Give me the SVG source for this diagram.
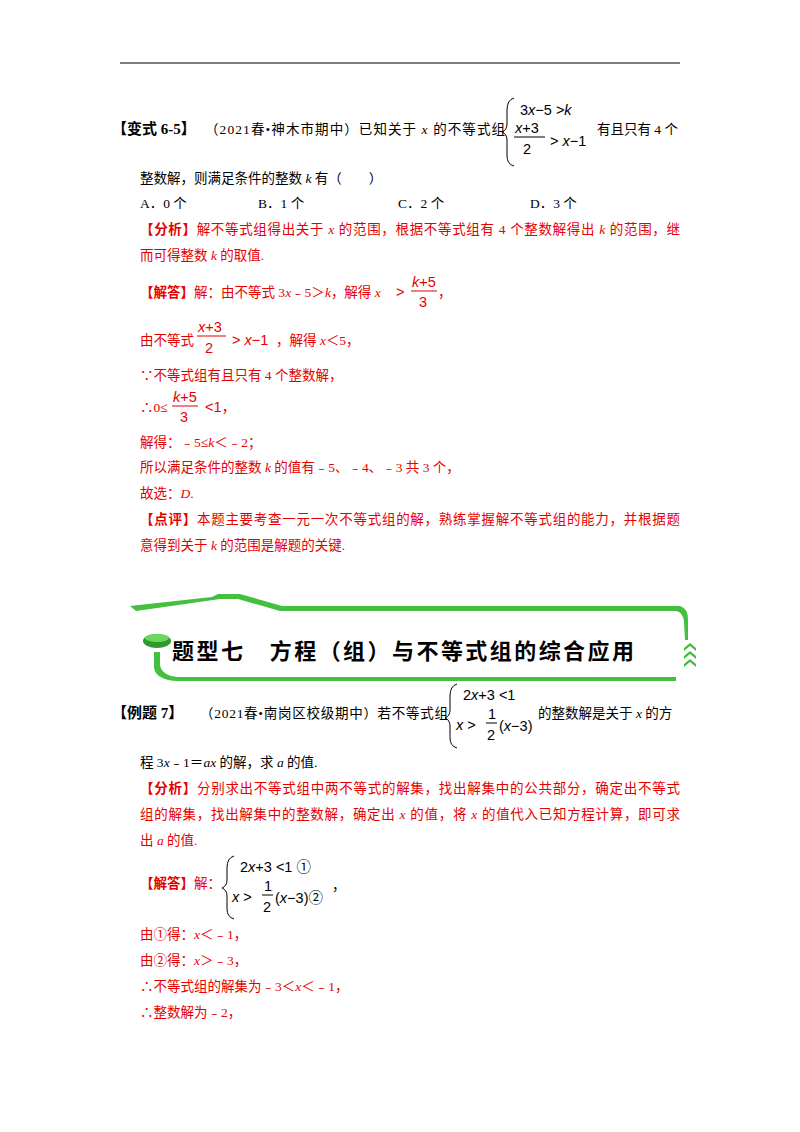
<svg xmlns="http://www.w3.org/2000/svg" width="800" height="1132" viewBox="0 0 800 1132">
<style>
text{font-family:"Liberation Serif","Noto Sans CJK SC",serif;font-size:13.5px;fill:#000}
.r{fill:#e60000}
.b{font-weight:bold}
.lb{font-weight:bold;font-size:15px}
.m{font-family:"Liberation Sans","Noto Sans CJK SC",sans-serif;font-size:14.5px}
.i{font-style:italic}
.br{fill:none;stroke:#000;stroke-width:1}
.h{font-family:"Noto Sans CJK SC",sans-serif;font-size:22px;font-weight:bold}
</style>
<rect width="800" height="1132" fill="#fff"/>
<line x1="120" y1="63" x2="680" y2="63" stroke="#000" stroke-width="1.2"/>
<g id="q65">
<text class="lb" x="112" y="134">【变式 6-5】</text>
<text x="205" y="134" textLength="300" lengthAdjust="spacing">（2021春•神木市期中）已知关于 <tspan class="i">x</tspan> 的不等式组</text>
<path class="br" d="M514,98 Q507,100 507,110 L507,124 Q507,130 502,132 Q507,134 507,140 L507,156 Q507,164 514,166"/>
<text class="m" x="520" y="115">3<tspan class="i">x</tspan>−5 &gt;<tspan class="i">k</tspan></text>
<text class="m" x="515" y="133"><tspan class="i">x</tspan>+3</text>
<line x1="514" y1="137" x2="545" y2="137" stroke="#000"/>
<text class="m" x="523" y="154">2</text>
<text class="m" x="550" y="146">&gt; <tspan class="i">x</tspan>−1</text>
<text x="597" y="134">有且只有 4 个</text>
<text x="140" y="183">整数解，则满足条件的整数 <tspan class="i">k</tspan> 有（　　）</text>
<text x="140" y="208">A．0 个</text><text x="258" y="208">B．1 个</text><text x="398" y="208">C．2 个</text><text x="530" y="208">D．3 个</text>
<text class="r" x="140" y="234" textLength="540" lengthAdjust="spacing"><tspan class="b">【分析】</tspan>解不等式组得出关于 <tspan class="i">x</tspan> 的范围，根据不等式组有 4 个整数解得出 <tspan class="i">k</tspan> 的范围，继</text>
<text class="r" x="140" y="260">而可得整数 <tspan class="i">k</tspan> 的取值.</text>
<text class="r" x="140" y="297"><tspan class="b">【解答】</tspan>解：由不等式 3<tspan class="i">x</tspan>﹣5＞<tspan class="i">k</tspan>，解得 <tspan class="i">x</tspan></text>
<text class="m r" x="396" y="297">&gt;</text>
<text class="m r" x="412" y="287"><tspan class="i">k</tspan>+5</text>
<line x1="411" y1="291" x2="437" y2="291" stroke="#e60000"/>
<text class="m r" x="419" y="307">3</text>
<text class="r" x="438" y="297">，</text>
<text class="r" x="140" y="345">由不等式</text>
<text class="m r" x="198" y="332"><tspan class="i">x</tspan>+3</text>
<line x1="197" y1="336" x2="226" y2="336" stroke="#e60000"/>
<text class="m r" x="205" y="353">2</text>
<text class="m r" x="232" y="345">&gt; <tspan class="i">x</tspan>−1</text>
<text class="r" x="276" y="345">，解得 <tspan class="i">x</tspan>＜5，</text>
<text class="r" x="140" y="380">∵不等式组有且只有 4 个整数解，</text>
<text class="r" x="140" y="412">∴0≤</text>
<text class="m r" x="173" y="402"><tspan class="i">k</tspan>+5</text>
<line x1="172" y1="406" x2="198" y2="406" stroke="#e60000"/>
<text class="m r" x="180" y="422">3</text>
<text class="m r" x="205" y="412">&lt;1，</text>
<text class="r" x="140" y="447">解得：﹣5≤<tspan class="i">k</tspan>＜﹣2；</text>
<text class="r" x="140" y="472">所以满足条件的整数 <tspan class="i">k</tspan> 的值有﹣5、﹣4、﹣3 共 3 个，</text>
<text class="r" x="140" y="498">故选：<tspan class="i">D</tspan>.</text>
<text class="r" x="140" y="524" textLength="540" lengthAdjust="spacing"><tspan class="b">【点评】</tspan>本题主要考查一元一次不等式组的解，熟练掌握解不等式组的能力，并根据题</text>
<text class="r" x="140" y="550">意得到关于 <tspan class="i">k</tspan> 的范围是解题的关键.</text>
</g>
<g id="banner">
<path d="M130,606 L212,597 L218,594 L240,594 L282,606 L680,606 Q688,608 688,620 L688,640 L685,640 L684,622 Q683,612 676,611 L280,611 L238,599 L220,599 L136,611 Z" fill="#44c040"/>
<path d="M160,652 L160,665 Q162,676 178,677 L676,677 L676,681 L176,681 Q153,679 154,665 L154,652 Z" fill="#44c040"/>
<ellipse cx="157" cy="641" rx="14" ry="7" fill="#2e9a2e"/>
<ellipse cx="157" cy="638" rx="12" ry="4" fill="#6ad85f"/>
<path d="M684,648 l6,-5 6,5 v3 l-6,-5 -6,5z M684,656 l6,-5 6,5 v3 l-6,-5 -6,5z M684,664 l6,-5 6,5 v3 l-6,-5 -6,5z" fill="#44c040"/>
<text class="h" x="172" y="659" textLength="462" lengthAdjust="spacing">题型七　方程（组）与不等式组的综合应用</text>
</g>
<g id="ex7">
<text class="lb" x="112" y="718">【例题 7】</text>
<text x="200" y="718" textLength="248" lengthAdjust="spacing">（2021春•南岗区校级期中）若不等式组</text>
<path class="br" d="M457,684 Q450,686 450,696 L450,710 Q450,716 445,718 Q450,720 450,726 L450,738 Q450,746 457,748"/>
<text class="m" x="463" y="700">2<tspan class="i">x</tspan>+3 &lt;1</text>
<text class="m" x="456" y="730"><tspan class="i">x</tspan> &gt;</text>
<text class="m" x="488" y="719">1</text>
<line x1="486" y1="723" x2="497" y2="723" stroke="#000"/>
<text class="m" x="487" y="740">2</text>
<text class="m" x="499" y="731">(<tspan class="i">x</tspan>−3)</text>
<text x="538" y="718">的整数解是关于 <tspan class="i">x</tspan> 的方</text>
<text x="140" y="767">程 3<tspan class="i">x</tspan>﹣1＝<tspan class="i">ax</tspan> 的解，求 <tspan class="i">a</tspan> 的值.</text>
<text class="r" x="140" y="793" textLength="540" lengthAdjust="spacing"><tspan class="b">【分析】</tspan>分别求出不等式组中两不等式的解集，找出解集中的公共部分，确定出不等式</text>
<text class="r" x="140" y="819" textLength="540" lengthAdjust="spacing">组的解集，找出解集中的整数解，确定出 <tspan class="i">x</tspan> 的值，将 <tspan class="i">x</tspan> 的值代入已知方程计算，即可求</text>
<text class="r" x="140" y="845">出 <tspan class="i">a</tspan> 的值.</text>
<text x="140" y="888"><tspan class="r b">【解答】</tspan><tspan class="r">解：</tspan></text>
<path class="br" d="M234,856 Q227,858 227,868 L227,880 Q227,886 222,888 Q227,890 227,896 L227,909 Q227,917 234,919"/>
<text class="m" x="240" y="872">2<tspan class="i">x</tspan>+3 &lt;1 ①</text>
<text class="m" x="232" y="902"><tspan class="i">x</tspan> &gt;</text>
<text class="m" x="264" y="891">1</text>
<line x1="262" y1="895" x2="273" y2="895" stroke="#000"/>
<text class="m" x="263" y="912">2</text>
<text class="m" x="275" y="903">(<tspan class="i">x</tspan>−3)②</text>
<text x="332" y="890">，</text>
<text class="r" x="140" y="939">由①得：<tspan class="i">x</tspan>＜﹣1，</text>
<text class="r" x="140" y="965">由②得：<tspan class="i">x</tspan>＞﹣3，</text>
<text class="r" x="140" y="991">∴不等式组的解集为﹣3＜<tspan class="i">x</tspan>＜﹣1，</text>
<text class="r" x="140" y="1017">∴整数解为﹣2，</text>
</g>
</svg>
